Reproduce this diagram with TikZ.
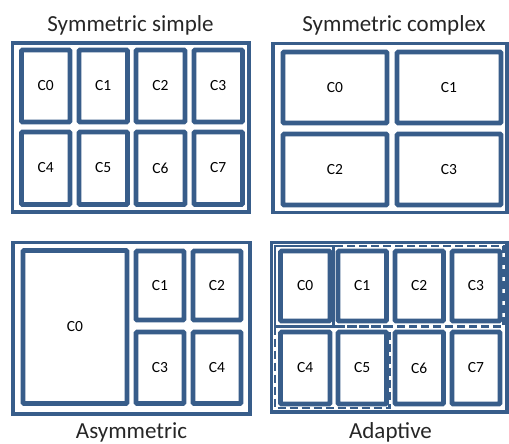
\documentclass[tikz,border=0pt]{standalone}
\usepackage{fontspec}
\setmainfont{Carlito}
\definecolor{frame}{HTML}{385D8A}
\begin{document}
\begin{tikzpicture}[x=1pt,y=-1pt,
  outerbox/.style={draw=frame,line width=3.5pt},
  cellbox/.style={draw=frame,line width=4.6pt,fill=white,rounded corners=1pt},
  grpbox/.style={draw=frame,line width=2.6pt,dash pattern=on 8pt off 4pt},
  grpsolid/.style={draw=frame,line width=2.2pt},
  lbl/.style={font=\fontsize{15.5}{15.5}\selectfont,inner sep=0pt},
  ttl/.style={font=\fontsize{23}{23}\selectfont,inner sep=0pt,anchor=base,text=black!85}]
\useasboundingbox (0,0) rectangle (509,444);
% ---------- titles
\node[ttl] (t1) at (130.5,31.5) {Symmetric simple};
\node[ttl] (t2) at (394,31.5) {Symmetric complex};
\node[ttl] (t3) at (131.5,438.5) {Asymmetric};
\node[ttl] (t4) at (390.5,438.5) {Adaptive};
% ---------- Symmetric simple
\draw[outerbox] (12.5,43) rectangle (249,212);
\foreach \i/\xa/\xb in {0/21.5/70,1/79/127.5,2/136/185,3/194/242.5}{
  \draw[cellbox] (\xa,50) rectangle (\xb,122);
  \node[lbl] (sa\i) at ({(\xa+\xb)/2},86) {C\i};
}
\foreach \i/\xa/\xb in {4/21.5/70,5/79/127.5,6/136/185,7/194/242.5}{
  \draw[cellbox] (\xa,132) rectangle (\xb,204.5);
  \node[lbl] (sa\i) at ({(\xa+\xb)/2},168) {C\i};
}
% ---------- Symmetric complex
\draw[outerbox] (273,43.5) rectangle (507,212.5);
\draw[cellbox] (283,52) rectangle (387,123);   \node[lbl] (sc0) at (335,88) {C0};
\draw[cellbox] (397,52) rectangle (501,123);   \node[lbl] (sc1) at (449,88) {C1};
\draw[cellbox] (283,134) rectangle (387,205);  \node[lbl] (sc2) at (335,170) {C2};
\draw[cellbox] (397,134) rectangle (501,205);  \node[lbl] (sc3) at (449,170) {C3};
% ---------- Asymmetric
\draw[outerbox] (13,242.5) rectangle (250,414);
\draw[cellbox] (23,250.5) rectangle (127,403.5); \node[lbl] (as0) at (75,327) {C0};
\draw[cellbox] (136,251) rectangle (184,320);     \node[lbl] (as1) at (160,286) {C1};
\draw[cellbox] (193,251) rectangle (241,320);     \node[lbl] (as2) at (217,286) {C2};
\draw[cellbox] (136,332) rectangle (184,403.5);   \node[lbl] (as3) at (160,368) {C3};
\draw[cellbox] (193,332) rectangle (241,403.5);   \node[lbl] (as4) at (217,368) {C4};
% ---------- Adaptive
\draw[outerbox] (271.5,242.5) rectangle (507,412);
\draw[grpsolid] (275,246) rectangle (333.5,326.5);
\draw[grpbox] (333.5,246) rectangle (503.5,326.5);
\draw[grpbox] (275,326.5) rectangle (389.5,408);
\foreach \i/\xa/\xb in {0/280.5/330,1/338/386.5,2/395/443.5,3/452/500}{
  \draw[cellbox] (\xa,251) rectangle (\xb,321);
  \node[lbl] (ad\i) at ({(\xa+\xb)/2},286) {C\i};
}
\foreach \i/\xa/\xb in {4/280.5/330,5/338/386.5,6/395/443.5,7/452/500}{
  \draw[cellbox] (\xa,332) rectangle (\xb,404);
  \node[lbl] (ad\i) at ({(\xa+\xb)/2},368) {C\i};
}
\end{tikzpicture}
\end{document}
